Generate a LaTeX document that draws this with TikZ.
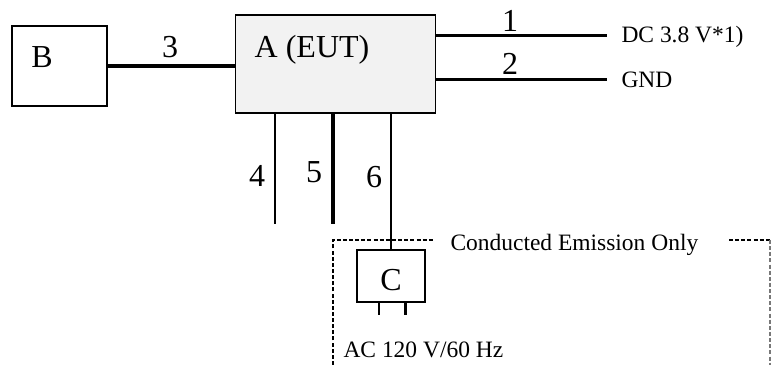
\documentclass[tikz,border=0pt]{standalone}
\usepackage{fontspec}
\setmainfont{Liberation Serif}
\usetikzlibrary{positioning,backgrounds}
\pgfdeclarelayer{edgelayer}
\pgfdeclarelayer{nodelayer}
\pgfsetlayers{background,edgelayer,nodelayer,main}
\definecolor{eutgrey}{RGB}{242,242,242}
\definecolor{dashgrey}{RGB}{120,120,120}
\tikzstyle{none}=[inner sep=0mm]
\tikzstyle{box}=[draw=black,line width=0.6pt,fill=white,inner sep=0pt,outer sep=0pt,shape=rectangle]
\tikzstyle{eut}=[box,fill=eutgrey,minimum width=75pt,minimum height=36.75pt]
\tikzstyle{aux}=[box,minimum width=35.6pt,minimum height=30pt]
\tikzstyle{psu}=[box,minimum width=25.5pt,minimum height=19.5pt]
\tikzstyle{big}=[inner sep=0pt,font=\fontsize{12}{14}\selectfont]
\tikzstyle{small}=[inner sep=0pt,font=\fontsize{8.8}{10}\selectfont]
\tikzstyle{cable}=[line width=0.8pt]
\tikzstyle{heavy}=[line width=1.2pt]
\tikzstyle{fence}=[line width=0.5pt,dash pattern=on 1.5pt off 0.8pt]
\begin{document}
\begin{tikzpicture}[x=0.375pt,y=-0.375pt]
	\useasboundingbox (0,0) rectangle (771,365);
	\begin{pgfonlayer}{nodelayer}
		\node [style=aux] (B) at (59.5, 66) {};
		\node [style=eut] (A) at (335.5, 64) {};
		\node [style=psu] (C) at (391, 276) {};
		\node [style=big] (Bt) at (42, 57) {B};
		\node [style=big] (At) at (312, 50) {A (EUT)};
		\node [style=big] (Ct) at (391, 280) {C};
		\node [style=big] (l3) at (170, 47) {3};
		\node [style=big] (l1) at (510, 21) {1};
		\node [style=big] (l2) at (510, 64) {2};
		\node [style=big] (l4) at (257, 176) {4};
		\node [style=big] (l5) at (314, 172) {5};
		\node [style=big] (l6) at (374, 177) {6};
		\node [style=small, anchor=west] (dc) at (621, 37) {DC 3.8 V*1)};
		\node [style=small, anchor=west] (gnd) at (621, 80) {GND};
		\node [style=small, anchor=west] (ce) at (450, 245) {Conducted Emission Only};
		\node [style=small, anchor=west] (ac) at (343, 350) {AC 120 V/60 Hz};
		\node [style=none] (e1) at (607, 35.5) {};
		\node [style=none] (e2) at (607, 79.5) {};
		\node [style=none] (e4) at (275, 224) {};
		\node [style=none] (e5) at (333, 224) {};
		\node [style=none] (p1) at (379, 315) {};
		\node [style=none] (p2) at (405.5, 315) {};
		\node [style=none] (d0) at (333, 365) {};
		\node [style=none] (d1) at (333, 240) {};
		\node [style=none] (d2) at (433, 240) {};
		\node [style=none] (d3) at (729, 240) {};
		\node [style=none] (d4) at (770, 240) {};
		\node [style=none] (d5) at (770, 365) {};
	\end{pgfonlayer}
	\begin{pgfonlayer}{edgelayer}
		\draw [style=heavy] (B.east) to (B.east -| A.west);
		\draw [style=cable] (A.east |- e1.center) to (e1.center);
		\draw [style=cable] (A.east |- e2.center) to (e2.center);
		\draw [style=cable] (e4.center |- A.south) to (e4.center);
		\draw [style=heavy] (e5.center |- A.south) to (e5.center);
		\draw [style=cable, line width=0.7pt] (C.north |- A.south) to (C.north);
		\draw [style=cable, line width=0.7pt] (p1.center |- C.south) to (p1.center);
		\draw [style=heavy, line width=1pt] (p2.center |- C.south) to (p2.center);
		\draw [style=fence] (d0.center) to (d1.center) to (d2.center);
		\draw [style=fence] (d3.center) to (d4.center);
		\draw [style=fence, draw=dashgrey] (d4.center) to (d5.center);
	\end{pgfonlayer}
\end{tikzpicture}
\end{document}
